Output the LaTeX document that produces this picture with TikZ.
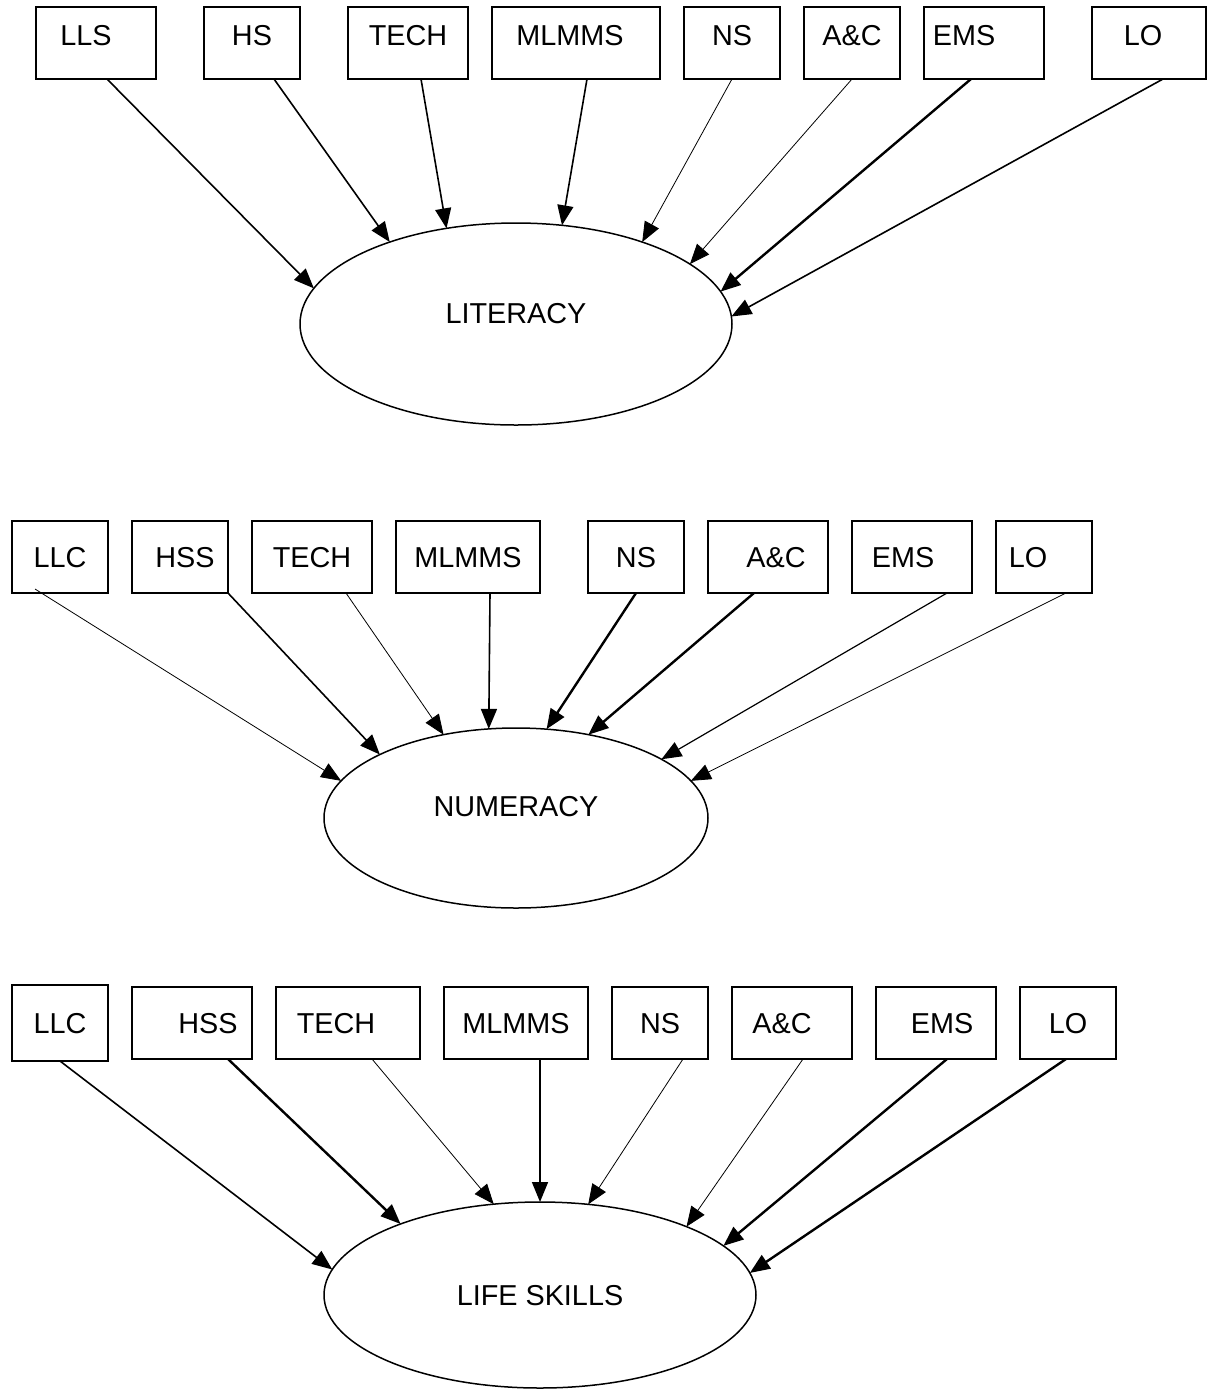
\documentclass[tikz,border=0pt]{standalone}
\usepackage{fontspec}
\setmainfont{Liberation Sans}
\usetikzlibrary{shapes, positioning, arrows.meta}
\newcommand\tx[2]{\makebox[0pt]{\hspace*{#1}#2}}

\begin{document}
\begin{tikzpicture}[x=0.5pt, y=-0.5pt, node distance=12pt, >={Triangle[length=10pt,width=8pt]}, font=\fontsize{14.4}{17}\selectfont]
\tikzset{box/.style={draw, rectangle, line width=1pt, minimum height=36pt, inner sep=0pt, outer sep=0pt, text height=10.2pt, text depth=0pt}}
\tikzset{row1/.style={box, text depth=8pt}}
\tikzset{blob/.style={draw, ellipse, line width=0.75pt, inner sep=0pt, outer sep=0pt, text height=10.2pt, text depth=0pt}}

\useasboundingbox (0,0) rectangle (1207,1389);

\node[row1, minimum width=60pt, anchor=north west]	(LLS) at (36,7)	{\tx{-10pt}{LLS}};
\node[row1, minimum width=48pt]	(HS)[right=24pt of LLS]	{HS};
\node[row1, minimum width=60pt]	(TECH)[right=24pt of HS]	{TECH};
\node[row1, minimum width=84pt]	(MLMMS)[right=of TECH]	{\tx{-6pt}{MLMMS}};
\node[row1, minimum width=48pt]	(NS)[right=of MLMMS]	{NS};
\node[row1, minimum width=48pt]	(AC)[right=of NS]	{A\&C};
\node[row1, minimum width=60pt]	(EMS)[right=of AC]	{\tx{-20pt}{EMS}};
\node[row1, minimum width=57pt]	(LO)[right=24pt of EMS]	{\tx{-6pt}{LO}};

\node[blob, minimum width=216pt, minimum height=101pt, text depth=11pt]	(LIT) at (516,324)	{LITERACY};

\node[box, minimum width=48pt, anchor=north west]	(LLC') at (12,521)	{LLC};
\node[box, minimum width=48pt]	(HSS')[right=of LLC']	{\tx{5pt}{HSS}};
\node[box, minimum width=60pt]	(TECH')[right=of HSS']	{TECH};
\node[box, minimum width=72pt]	(MLMMS')[right=of TECH']	{MLMMS};
\node[box, minimum width=48pt]	(NS')[right=24pt of MLMMS']	{NS};
\node[box, minimum width=60pt]	(AC')[right=of NS']	{\tx{8pt}{A\&C}};
\node[box, minimum width=60pt]	(EMS')[right=of AC']	{\tx{-9pt}{EMS}};
\node[box, minimum width=48pt]	(LO')[right=of EMS']	{\tx{-16pt}{LO}};

\node[blob, minimum width=192pt, minimum height=90pt, text depth=12pt]	(NUM) at (516,818)	{NUMERACY};

\node[box, minimum width=48pt, minimum height=38pt, anchor=south west]	(LLC'') at (12,1061)	{LLC};
\node[box, minimum width=60pt]	(HSS'')[right=of LLC'']	{\tx{16pt}{HSS}};
\node[box, minimum width=72pt]	(TECH'')[right=of HSS'']	{\tx{-12pt}{TECH}};
\node[box, minimum width=72pt]	(MLMMS'')[right=of TECH'']	{MLMMS};
\node[box, minimum width=48pt]	(NS'')[right=of MLMMS'']	{NS};
\node[box, minimum width=60pt]	(AC'')[right=of NS'']	{\tx{-10pt}{A\&C}};
\node[box, minimum width=60pt]	(EMS'')[right=of AC'']	{\tx{6pt}{EMS}};
\node[box, minimum width=48pt]	(LO'')[right=of EMS'']	{LO};

\node[blob, minimum width=216pt, minimum height=93pt]	(LIFE) at (540,1295)	{LIFE SKILLS};

\path[->]
([xshift=5.5pt]LLS.south) edge[thick]	(LIT.170)
([xshift=11pt]HS.south) edge[thick]	(LIT.147)
([xshift=6.5pt]TECH.south) edge[thick]	(LIT.126)
([xshift=5.5pt]MLMMS.south) edge[thick]	(LIT.65)
(NS.south) edge[thin]	(LIT.33)
(AC.south) edge[thin]	(LIT.19)
([xshift=-6.5pt]EMS.south) edge[very thick]	(LIT.9)
([xshift=7pt]LO.south) edge[thick]	(LIT.2);

\path[->]
([xshift=-12.5pt,yshift=2pt]LLC'.south) edge[thin]	(NUM.168)
([xshift=24pt]HSS'.south) edge[thick]	(NUM.155)
([xshift=17pt]TECH'.south) edge[thin]	(NUM.131)
([xshift=11pt]MLMMS'.south) edge[thick]	(NUM.107)
(NS'.south) edge[very thick]	(NUM.71)
([xshift=-7pt]AC'.south) edge[very thick]	(NUM.49)
([xshift=17.5pt]EMS'.south) edge[semithick]	(NUM.22)
([xshift=11pt]LO'.south) edge[thin]	(NUM.12);

\path[->]
(LLC''.south) edge[thick]	(LIFE.173)
([xshift=18pt]HSS''.south) edge[very thick]	(LIFE.153)
([xshift=12pt]TECH''.south) edge[thin]	(LIFE.117)
([xshift=12pt]MLMMS''.south) edge[thick]	(LIFE.90)
([xshift=11.5pt]NS''.south) edge[thin]	(LIFE.62)
([xshift=5.5pt]AC''.south) edge[thin]	(LIFE.25)
([xshift=5.5pt]EMS''.south) edge[very thick]	(LIFE.15)
([xshift=-1pt]LO''.south) edge[very thick]	(LIFE.6);

\end{tikzpicture}
\end{document}
